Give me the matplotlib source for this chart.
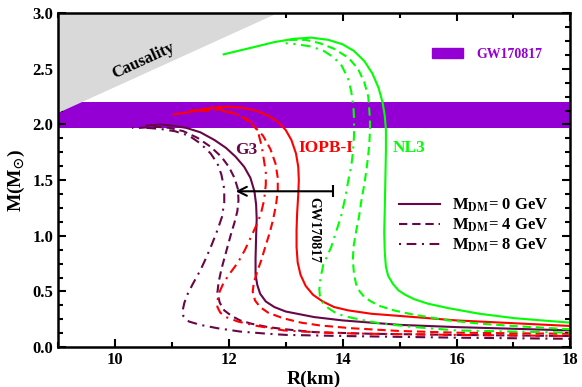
import numpy as np
import matplotlib
matplotlib.use('Agg')
import matplotlib.pyplot as plt
from matplotlib.lines import Line2D
from matplotlib.patches import Patch
from matplotlib.ticker import MultipleLocator

# curves: (R km, M Msun), from the low-mass end up to the maximum mass
g3_0_R = [18.0, 16.0, 15.0, 14.0, 13.5, 13.0, 12.8, 12.65, 12.55, 12.5, 12.47, 12.47, 12.48, 12.49, 12.48, 12.45,
          12.38, 12.27, 12.12, 11.95, 11.75, 11.5, 11.25, 11.0, 10.8, 10.55]
g3_0_M = [0.15, 0.18, 0.2, 0.24, 0.27, 0.32, 0.36, 0.41, 0.48, 0.56, 0.65, 0.8, 1.0, 1.15, 1.28, 1.4,
          1.52, 1.62, 1.71, 1.79, 1.86, 1.93, 1.97, 1.99, 2.0, 1.99]
g3_4_R = [18.0, 16.0, 14.5, 13.5, 13.0, 12.69, 12.4, 12.2, 12.05, 11.92, 11.84, 11.8, 11.82, 11.87, 11.95, 12.03,
          12.1, 12.15, 12.17, 12.16, 12.1, 12.0, 11.87, 11.68, 11.45, 11.2, 10.95, 10.7, 10.45]
g3_4_M = [0.1, 0.11, 0.12, 0.135, 0.16, 0.18, 0.21, 0.24, 0.28, 0.33, 0.4, 0.49, 0.58, 0.7, 0.85, 1.0,
          1.12, 1.22, 1.32, 1.42, 1.52, 1.62, 1.71, 1.8, 1.88, 1.94, 1.97, 1.98, 1.97]
g3_8_R = [18.0, 16.0, 14.0, 13.0, 12.69, 12.2, 11.8, 11.5, 11.3, 11.2, 11.19, 11.22, 11.28, 11.37, 11.5, 11.6,
          11.7, 11.8, 11.88, 11.92, 11.92, 11.87, 11.8, 11.68, 11.5, 11.3, 11.05, 10.8, 10.55, 10.3]
g3_8_M = [0.075, 0.085, 0.1, 0.11, 0.12, 0.14, 0.17, 0.2, 0.23, 0.28, 0.33, 0.4, 0.48, 0.57, 0.69, 0.8,
          0.92, 1.05, 1.17, 1.3, 1.42, 1.55, 1.65, 1.74, 1.83, 1.9, 1.94, 1.96, 1.97, 1.97]

iopb_0_R = [18.0, 17.0, 16.0, 15.26, 14.5, 14.1, 13.85, 13.65, 13.48, 13.35, 13.26, 13.21, 13.19, 13.19, 13.2,
            13.22, 13.23, 13.22, 13.18, 13.1, 13.0, 12.85, 12.69, 12.5, 12.25, 11.98, 11.7, 11.4, 11.03]
iopb_0_M = [0.19, 0.215, 0.24, 0.27, 0.3, 0.33, 0.36, 0.41, 0.47, 0.55, 0.65, 0.76, 0.9, 1.05, 1.2,
            1.37, 1.5, 1.62, 1.74, 1.86, 1.95, 2.03, 2.08, 2.12, 2.15, 2.16, 2.15, 2.12, 2.09]
iopb_4_R = [18.0, 16.0, 15.0, 14.15, 13.6, 13.27, 12.95, 12.69, 12.55, 12.46, 12.42, 12.44, 12.5, 12.57, 12.64,
            12.72, 12.78, 12.83, 12.86, 12.86, 12.82, 12.73, 12.6, 12.45, 12.26, 12.05, 11.8, 11.55, 11.3]
iopb_4_M = [0.12, 0.13, 0.145, 0.17, 0.195, 0.22, 0.26, 0.31, 0.36, 0.42, 0.5, 0.58, 0.68, 0.78, 0.9,
            1.03, 1.15, 1.28, 1.4, 1.52, 1.65, 1.78, 1.9, 1.98, 2.06, 2.11, 2.14, 2.14, 2.12]
iopb_8_R = [18.0, 16.0, 14.5, 13.85, 13.3, 12.97, 12.5, 12.16, 11.95, 11.85, 11.8, 11.8, 11.84, 11.91, 12.03, 12.16,
            12.28, 12.39, 12.48, 12.56, 12.62, 12.65, 12.65, 12.62, 12.58, 12.51, 12.4, 12.25, 12.09, 11.8, 11.5]
iopb_8_M = [0.1, 0.11, 0.12, 0.126, 0.14, 0.15, 0.19, 0.23, 0.27, 0.31, 0.36, 0.42, 0.5, 0.58, 0.67, 0.76,
            0.87, 0.99, 1.09, 1.19, 1.32, 1.46, 1.57, 1.67, 1.8, 1.94, 2.02, 2.07, 2.1, 2.13, 2.12]

nl3_0_R = [18.0, 17.5, 17.02, 16.4, 15.86, 15.5, 15.26, 15.1, 14.98, 14.88, 14.8, 14.76, 14.74, 14.73, 14.74, 14.75,
           14.76, 14.76, 14.74, 14.7, 14.63, 14.52, 14.38, 14.2, 14.0, 13.75, 13.45, 13.15, 12.8, 12.4, 11.91]
nl3_0_M = [0.22, 0.24, 0.26, 0.3, 0.35, 0.39, 0.43, 0.47, 0.51, 0.57, 0.64, 0.72, 0.85, 1.03, 1.25, 1.5,
           1.77, 1.95, 2.08, 2.2, 2.33, 2.46, 2.57, 2.66, 2.72, 2.76, 2.78, 2.77, 2.74, 2.69, 2.63]
nl3_4_R = [18.0, 17.0, 16.44, 15.86, 15.26, 14.9, 14.65, 14.5, 14.38, 14.3, 14.24, 14.2, 14.18, 14.19, 14.24, 14.29,
           14.33, 14.38, 14.42, 14.45, 14.47, 14.48, 14.48, 14.45, 14.38, 14.27, 14.1, 13.85, 13.6, 13.35, 13.0]
nl3_4_M = [0.16, 0.19, 0.21, 0.24, 0.29, 0.33, 0.37, 0.41, 0.45, 0.5, 0.56, 0.65, 0.78, 0.9, 1.05, 1.18,
           1.32, 1.46, 1.6, 1.73, 1.84, 1.95, 2.05, 2.25, 2.38, 2.5, 2.6, 2.68, 2.73, 2.76, 2.76]
nl3_8_R = [18.0, 17.0, 16.0, 15.26, 14.7, 14.38, 14.1, 13.9, 13.75, 13.65, 13.6, 13.59, 13.61, 13.66, 13.72, 13.8, 13.88,
           13.97, 14.04, 14.1, 14.15, 14.18, 14.2, 14.2, 14.19, 14.15, 14.09, 13.97, 13.82, 13.67, 13.45, 13.2, 13.0]
nl3_8_M = [0.13, 0.14, 0.15, 0.18, 0.21, 0.24, 0.27, 0.3, 0.35, 0.4, 0.46, 0.52, 0.62, 0.74, 0.81, 0.9, 1.03,
           1.17, 1.33, 1.5, 1.62, 1.75, 1.9, 2.05, 2.15, 2.3, 2.42, 2.54, 2.61, 2.66, 2.7, 2.72, 2.73]

# constraints
causal_R = [9.0, 12.83]
causal_M = [2.11, 3.0]
gw_band = [1.97, 2.20]
gw_radius = [12.12, 13.83]
gw_mass = 1.40

# Project settings
plt.rcParams['font.family'] = 'serif'
plt.rcParams['font.serif'] = ['Liberation Serif', 'DejaVu Serif']
plt.rcParams['font.weight'] = 'bold'
plt.rcParams['axes.labelweight'] = 'bold'
plt.rcParams['mathtext.fontset'] = 'stix'
plt.rcParams['lines.scale_dashes'] = False

maroon = '#670748'
violet = '#9400d3'
dashed = (6, 3.5)
dashdot = (1.5, 4, 7, 4)

fig = plt.figure(figsize=(5.82, 3.87), dpi=100)
ax = fig.add_axes([0.0997, 0.103, 0.8803, 0.863])

ax.axhspan(gw_band[0], gw_band[1], color=violet, lw=0, zorder=1)
ax.fill_between(causal_R, causal_M, 3.0, color='#d9d9d9', lw=0, zorder=2)

curves = [
    (g3_0_R, g3_0_M, maroon, None), (g3_4_R, g3_4_M, maroon, dashed), (g3_8_R, g3_8_M, maroon, dashdot),
    (iopb_0_R, iopb_0_M, 'red', None), (iopb_4_R, iopb_4_M, 'red', dashed), (iopb_8_R, iopb_8_M, 'red', dashdot),
    (nl3_0_R, nl3_0_M, '#00ff00', None), (nl3_4_R, nl3_4_M, '#00ff00', dashed), (nl3_8_R, nl3_8_M, '#00ff00', dashdot),
]
for r, m, c, ds in curves:
    line, = ax.plot(r, m, color=c, lw=1.5, zorder=3, solid_joinstyle='round')
    if ds is not None:
        line.set_dashes(ds)

# GW170817 radius arrow
ax.annotate('', xy=(gw_radius[0], gw_mass), xytext=(gw_radius[1], gw_mass),
            arrowprops=dict(arrowstyle='->', lw=1.5, color='black', mutation_scale=16,
                            shrinkA=0, shrinkB=0), zorder=4)
ax.plot(gw_radius[1], gw_mass, marker='|', ms=8, mew=1.5, color='black', zorder=4)
ax.text(13.5, 1.05, 'GW170817', rotation=-90, fontsize=10, fontweight='bold',
        ha='center', va='center')

ax.text(10.5, 2.57, 'Causality', rotation=24.7, fontsize=12, fontweight='bold',
        ha='center', va='center', rotation_mode='anchor')
ax.text(12.3, 1.77, 'G3', color=maroon, fontsize=12.5, fontweight='bold', ha='center', va='center')
ax.text(13.7, 1.79, 'IOPB-I', color='red', fontsize=12.5, fontweight='bold', ha='center', va='center')
ax.text(15.17, 1.79, 'NL3', color='#00ff00', fontsize=12.5, fontweight='bold', ha='center', va='center')

leg1 = ax.legend([Patch(color=violet)], ['GW170817'], loc='center left',
                 bbox_to_anchor=(0.73, 0.877), frameon=False, fontsize=10,
                 handlelength=2.2, handletextpad=1.0, borderpad=0, borderaxespad=0,
                 labelcolor=violet)
ax.add_artist(leg1)

h = [Line2D([], [], color=maroon, lw=1.5),
     Line2D([], [], color=maroon, lw=1.5, dashes=dashed),
     Line2D([], [], color=maroon, lw=1.5, dashes=dashdot)]
labels = [r'M$_{\mathbf{DM}}$= 0 GeV', r'M$_{\mathbf{DM}}$= 4 GeV', r'M$_{\mathbf{DM}}$= 8 GeV']
ax.legend(h, labels, loc='upper left', bbox_to_anchor=(0.665, 0.45), frameon=False,
          fontsize=12, handlelength=2.5, handletextpad=0.7, labelspacing=0.15,
          borderpad=0, borderaxespad=0)

ax.set_xlim(9, 18)
ax.set_ylim(0, 3)
ax.xaxis.set_major_locator(MultipleLocator(2))
ax.xaxis.set_minor_locator(MultipleLocator(1))
ax.yaxis.set_major_locator(MultipleLocator(0.5))
ax.yaxis.set_minor_locator(MultipleLocator(0.125))
ax.yaxis.set_major_formatter(plt.FormatStrFormatter('%.1f'))
ax.tick_params(which='both', direction='in', top=True, right=True, width=1.5, labelsize=12)
ax.tick_params(which='major', length=6)
ax.tick_params(which='minor', length=3.5)
for s in ax.spines.values():
    s.set_linewidth(1.8)
    s.set_zorder(5)

ax.set_xlabel('R(km)', fontsize=14, labelpad=2)
ax.set_ylabel(r'M(M$_{\mathbf{\odot}}$)', fontsize=14, labelpad=4)

plt.savefig('out.png', dpi=100)
